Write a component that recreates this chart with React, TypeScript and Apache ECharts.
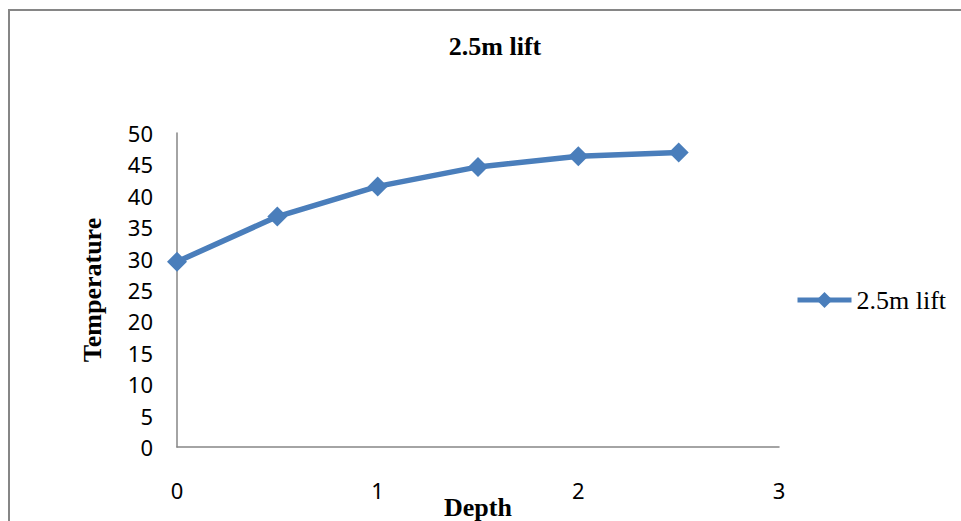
import React, { useEffect, useRef } from "react";
import * as echarts from "echarts";

const chartTitle = "2.5m lift";
const seriesName = "2.5m lift";
const depths = [0, 0.5, 1, 1.5, 2, 2.5];
const temperatures = [29.5, 36.7, 41.5, 44.6, 46.3, 46.9];
const xAxisName = "Depth";
const yAxisName = "Temperature";

const serif = "'Liberation Serif', 'Times New Roman', serif";
const sans = "'Noto Sans', 'Liberation Sans', sans-serif";
const blue = "#4a7ebb";
const axisGray = "#868686";

export default function App() {
  const ref = useRef<HTMLDivElement>(null);

  useEffect(() => {
    if (!ref.current) return;
    const chart = echarts.init(ref.current, null, { renderer: "svg" });
    chart.setOption({
      animation: false,
      backgroundColor: "#ffffff",
      title: {
        text: chartTitle,
        left: 490,
        textAlign: "center",
        top: 28,
        textStyle: { fontFamily: serif, fontSize: 26, fontWeight: "bold", color: "#000" },
      },
      graphic: [
        {
          type: "rect",
          shape: { x: 9, y: 10, width: 1000, height: 600 },
          style: { fill: "none", stroke: axisGray, lineWidth: 2 },
          silent: true,
        },
      ],
      legend: {
        left: 795,
        top: 287,
        padding: 0,
        itemWidth: 54,
        itemHeight: 20,
        itemGap: 3,
        lineStyle: { width: 5, color: blue },
        itemStyle: { color: blue },
        textStyle: { fontFamily: serif, fontSize: 26, color: "#000" },
        data: [seriesName],
      },
      grid: { left: 177, top: 133, width: 602, height: 314, outerBoundsMode: "none" },
      xAxis: {
        type: "value",
        min: 0,
        max: 3,
        interval: 1,
        name: xAxisName,
        nameLocation: "middle",
        nameGap: 47,
        nameMoveOverlap: false,
        nameTextStyle: { fontFamily: serif, fontSize: 26, fontWeight: "bold", color: "#000" },
        axisLine: { show: true, lineStyle: { color: axisGray, width: 1.5 } },
        axisTick: { show: false },
        splitLine: { show: false },
        axisLabel: { margin: 32, fontFamily: sans, fontSize: 22, color: "#000" },
      },
      yAxis: {
        type: "value",
        min: 0,
        max: 50,
        interval: 5,
        name: yAxisName,
        nameLocation: "middle",
        nameGap: 72,
        nameRotate: 90,
        nameMoveOverlap: false,
        nameTextStyle: { fontFamily: serif, fontSize: 26, fontWeight: "bold", color: "#000" },
        axisLine: { show: true, lineStyle: { color: axisGray, width: 1.5 } },
        axisTick: { show: false },
        splitLine: { show: false },
        axisLabel: { margin: 24, fontFamily: sans, fontSize: 22, color: "#000" },
      },
      series: [
        {
          name: seriesName,
          type: "line",
          data: depths.map((d, i) => [d, temperatures[i]]),
          smooth: false,
          symbol: "diamond",
          symbolSize: 20,
          lineStyle: { color: blue, width: 5.5 },
          itemStyle: { color: blue },
        },
      ],
    });
    return () => chart.dispose();
  }, []);

  return (
    <div
      ref={ref}
      style={{ position: "absolute", left: 0, top: 0, width: 961, height: 521 }}
    />
  );
}
